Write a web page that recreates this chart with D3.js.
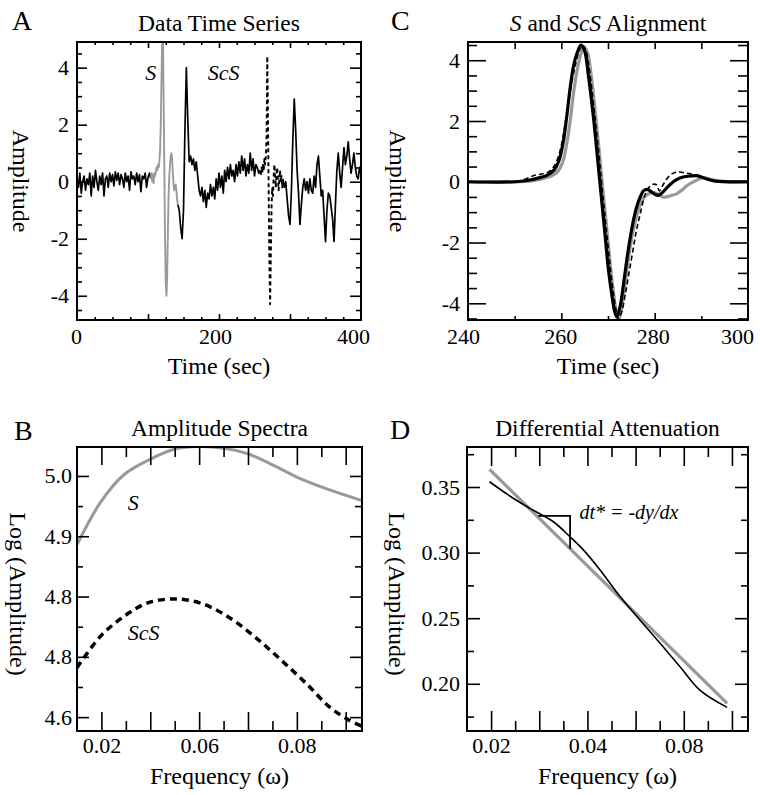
<!DOCTYPE html>
<html><head><meta charset="utf-8">
<script src="https://cdn.jsdelivr.net/npm/d3@7"></script>
<style>
body{margin:0;background:#fff}
svg{display:block}
text{font-family:"Liberation Serif","Times New Roman",Times,serif;fill:#000}
</style>
</head><body>
<svg id="c" width="760" height="795"></svg>
<script>
// ---------------- DATA ----------------
// Panel A: data time series (regularly sampled segments: start time, step, values)
const aBlack1Start = 0, aBlack1Step = 2;
const aBlack1 = [0.1,-0.2,0.3,-0.4,0.0,0.2,-0.3,0.1,-0.1,0.3,-0.5,0.2,-0.2,0.4,0.0,-0.3,0.2,-0.1,0.3,-0.5,0.1,0.2,-0.2,0.3,0.0,0.25,-0.15,0.35,0.05,0.3,-0.1,0.25,0.1,-0.2,0.3,0.0,0.2,-0.3,0.35,0.1,0.2,-0.1,0.3,0.0,0.25,-0.35,0.2,0.1,0.3,-0.2,0.15,0.3,0.1];
const aGrayStart = 104, aGrayStep = 1;
const aGray = [0.1,0.3,0.0,0.25,-0.05,0.3,0.2,0.35,0.5,0.4,0.6,0.5,0.7,1.1,2.0,3.6,5.0,5.2,3.0,0.5,-2.0,-3.6,-4.0,-3.3,-1.8,-0.5,0.2,0.6,0.9,1.0,0.8,0.3,-0.1,-0.3,-0.2,-0.1,-0.3,-0.6,-0.8];
const aBlack2Start = 142, aBlack2Step = 2;
const aBlack2 = [-0.8,-1.0,-1.6,-2.0,-1.0,1.8,4.0,2.2,0.7,0.9,0.6,0.8,0.4,0.7,0.2,-0.3,-0.5,-0.2,-0.7,-0.3,-0.9,-0.4,-0.6,-0.1,-0.5,-0.2,-0.6,0.1,-0.3,0.3,-0.2,0.2,-0.4,0.4,0.0,0.5,0.1,0.6,0.2,0.4,0.0,0.6,0.2,0.7,0.3,0.9,0.4,0.8,0.2,0.6,0.3,1.0,0.4,0.8,0.2,0.6,0.5,0.3,0.4];
const aDashStart = 258, aDashStep = 1;
const aDash = [0.4,0.2,0.5,0.3,0.6,0.4,0.8,0.6,0.9,1.6,4.4,2.2,-0.5,-2.8,-4.3,-2.6,-0.9,-0.2,-0.5,0.2,0.6,0.3,-0.2,0.3,0.5,0.1,-0.3,0.1,0.4,0.0,0.2,-0.2,0.1];
const aBlack3Start = 290, aBlack3Step = 2;
const aBlack3 = [0.1,-0.2,0.0,-0.6,-1.2,-1.5,-0.3,1.5,2.9,1.8,0.4,-0.4,-1.5,-0.8,-0.2,0.1,-0.3,0.0,-0.4,0.1,-0.3,-0.4,0.2,-0.2,0.6,0.9,0.2,-0.5,-0.3,-1.2,-2.1,-1.0,-0.4,-0.5,-0.9,-1.3,-2.1,-0.8,0.4,1.0,0.3,-0.2,0.5,1.2,0.6,0.9,1.4,0.8,0.3,0.6,1.0,0.5,0.2,0.1,0.5,0.3];
const aXLabelVals = [0, 200, 400];
const aXLabels = ["0", "200", "400"];
const aYLabelVals = [-4, -2, 0, 2, 4];
const aYLabels = ["-4", "-2", "0", "2", "4"];

// Panel C: S and ScS alignment
const cBlackT = [240,250,253,255,257,258.5,259.5,260.4,261.2,261.9,262.6,263.3,264.2,265.0,265.8,266.9,267.8,268.7,269.4,270.1,270.8,271.4,271.9,272.6,273.3,274.0,274.7,275.4,276.1,276.9,277.6,278.3,279.0,279.9,280.8,281.7,282.6,284.0,285.4,287.0,289.0,291.0,293.0,300];
const cBlackV = [0.0,0.0,0.05,0.12,0.22,0.4,0.7,1.3,2.2,3.1,3.8,4.2,4.5,4.3,3.5,2.1,0.7,-0.7,-1.8,-2.9,-3.7,-4.25,-4.45,-4.1,-3.4,-2.6,-1.9,-1.3,-0.85,-0.5,-0.3,-0.25,-0.3,-0.4,-0.45,-0.35,-0.2,0.0,0.12,0.18,0.2,0.1,0.02,0.0];
const cGrayT = [240,251,254,256,258,259.3,260.3,261.1,261.9,262.6,263.3,264.0,264.8,265.6,266.4,267.4,268.3,269.1,269.9,270.6,271.3,271.8,272.3,273.0,273.8,274.6,275.4,276.2,277.0,277.8,278.7,279.7,280.7,281.7,282.6,283.6,284.7,285.8,286.9,288.6,290.4,292.0,294.0,300];
const cGrayV = [0.0,0.0,0.04,0.1,0.2,0.35,0.65,1.2,2.0,2.9,3.6,4.1,4.45,4.25,3.5,2.1,0.7,-0.6,-1.8,-2.9,-3.8,-4.3,-4.55,-4.1,-3.2,-2.3,-1.6,-1.1,-0.7,-0.5,-0.4,-0.35,-0.4,-0.5,-0.5,-0.45,-0.4,-0.28,-0.13,0.02,0.14,0.08,0.02,0.0];
const cDashT = [240,250,252.5,254,255.5,257,258.4,259.3,260.0,260.8,261.6,262.4,263.1,263.8,264.5,265.2,266.0,267.0,268.0,268.8,269.6,270.4,271.1,271.7,272.2,272.9,273.7,274.5,275.3,276.1,276.9,277.6,278.3,279.0,279.7,280.4,281.0,281.8,282.9,284.2,285.4,286.8,288.2,289.8,291.1,293,300];
const cDashV = [0.0,0.0,0.1,0.2,0.25,0.3,0.5,0.8,1.2,1.9,2.7,3.4,3.9,4.3,4.5,4.35,3.7,2.4,1.0,-0.3,-1.5,-2.7,-3.6,-4.2,-4.5,-4.3,-3.7,-3.0,-2.3,-1.6,-1.06,-0.6,-0.3,-0.15,-0.08,-0.1,-0.3,-0.1,0.15,0.3,0.32,0.28,0.25,0.15,0.1,0.02,0.0];
const cXLabelVals = [240, 260, 280, 300];
const cXLabels = ["240", "260", "280", "300"];
const cYLabelVals = [-4, -2, 0, 2, 4];
const cYLabels = ["-4", "-2", "0", "2", "4"];

// Panel B: amplitude spectra
const bSFreq = [0.0125,0.0197,0.0269,0.0351,0.0428,0.0499,0.0576,0.0648,0.073,0.0812,0.0894,0.1];
const bSLog = [4.886,4.956,5.002,5.028,5.045,5.049,5.046,5.037,5.017,4.995,4.978,4.959];
const bScSFreq = [0.0125,0.0197,0.0269,0.034,0.0422,0.0505,0.0587,0.0669,0.0751,0.083,0.09,0.096,0.1];
const bScSLog = [4.682,4.734,4.767,4.789,4.796,4.789,4.767,4.734,4.695,4.655,4.617,4.595,4.585];
const bXLabelVals = [0.02, 0.05, 0.08];
const bXLabels = ["0.02", "0.06", "0.08"];
const bYLabelVals = [4.6, 4.7, 4.8, 4.9, 5.0];
const bYLabels = ["4.6", "4.8", "4.8", "4.9", "5.0"];

// Panel D: differential attenuation
const dRatioFreq = [0.0195,0.0269,0.0321,0.0394,0.0446,0.0488,0.054,0.0602,0.0664,0.0727,0.0789,0.0851,0.0935];
const dRatioLog = [0.354,0.3414,0.3337,0.3235,0.312,0.3019,0.2866,0.2663,0.2485,0.2307,0.2128,0.195,0.182];
const dFitFreq = [0.0195, 0.0935];
const dFitLog = [0.3635, 0.185];
const dSlopeFreq = [0.0347, 0.0446, 0.0446];
const dSlopeLog = [0.328, 0.328, 0.303];
const dXLabelVals = [0.02, 0.05, 0.08];
const dXLabels = ["0.02", "0.04", "0.08"];
const dYLabelVals = [0.20, 0.25, 0.30, 0.35];
const dYLabels = ["0.20", "0.25", "0.30", "0.35"];

// ---------------- DRAWING ----------------
const svg = d3.select('#c');
const TICK_FS = 22, TITLE_FS = 23.5, AXT_FS = 24, LET_FS = 28;

function zip(a, b) { return a.map((v, i) => [v, b[i]]); }
function seg(start, step, vals) { return vals.map((v, i) => [start + i * step, v]); }

function panel(cfg) {
  const x = d3.scaleLinear(cfg.xd, [cfg.l, cfg.r]);
  const y = d3.scaleLinear(cfg.yd, [cfg.b, cfg.t]);
  const g = svg.append('g');
  const id = 'clip' + cfg.name;
  svg.append('clipPath').attr('id', id).append('rect')
    .attr('x', cfg.l).attr('y', cfg.t).attr('width', cfg.r - cfg.l).attr('height', cfg.b - cfg.t);
  const plot = g.append('g').attr('clip-path', `url(#${id})`);
  const axes = g.append('g');

  function ticks(orient, vals, len) {
    const mk = {bottom: d3.axisBottom, top: d3.axisTop, left: d3.axisLeft, right: d3.axisRight}[orient];
    const sc = (orient === 'bottom' || orient === 'top') ? x : y;
    const tr = {bottom: `translate(0,${cfg.b})`, top: `translate(0,${cfg.t})`,
                left: `translate(${cfg.l},0)`, right: `translate(${cfg.r},0)`}[orient];
    const a = axes.append('g').attr('transform', tr)
      .call(mk(sc).tickValues(vals).tickSize(-len).tickSizeOuter(0).tickFormat(() => ''));
    a.select('.domain').remove();
    a.selectAll('line').attr('stroke', '#000').attr('stroke-width', 1.6);
  }
  function labels(orient, vals, texts, pad, dxs) {
    const mk = orient === 'bottom' ? d3.axisBottom : d3.axisLeft;
    const sc = orient === 'bottom' ? x : y;
    const tr = orient === 'bottom' ? `translate(0,${cfg.b})` : `translate(${cfg.l},0)`;
    const a = axes.append('g').attr('transform', tr)
      .call(mk(sc).tickValues(vals).tickSize(0).tickPadding(pad).tickFormat((d, i) => texts[i]));
    a.select('.domain').remove();
    a.selectAll('line').remove();
    a.selectAll('text').attr('font-size', TICK_FS).attr('fill', '#000')
      .style('font-family', '"Liberation Serif","Times New Roman",serif');
    if (dxs) a.selectAll('text').attr('dx', (d, i) => dxs[i]);
  }
  cfg.xTicks.forEach(t => { ticks('bottom', t.v, t.lb); ticks('top', t.v, t.lt); });
  cfg.yTicks.forEach(t => { ticks('left', t.v, t.ll); ticks('right', t.v, t.lr); });
  labels('bottom', cfg.xLabVals, cfg.xLabs, cfg.xPad, cfg.xLabDx);
  labels('left', cfg.yLabVals, cfg.yLabs, cfg.yPad);

  g.append('rect').attr('x', cfg.l).attr('y', cfg.t).attr('width', cfg.r - cfg.l).attr('height', cfg.b - cfg.t)
    .attr('fill', 'none').attr('stroke', '#000').attr('stroke-width', 2);

  g.append('text').attr('x', cfg.letX).attr('y', cfg.letY).attr('font-size', LET_FS).text(cfg.letter);
  const tt = g.append('text').attr('x', (cfg.l + cfg.r) / 2).attr('y', cfg.titleY)
    .attr('text-anchor', 'middle').attr('font-size', TITLE_FS);
  cfg.title.forEach(p => tt.append('tspan').attr('font-style', p[1] ? 'italic' : 'normal').text(p[0]));
  g.append('text').attr('x', (cfg.l + cfg.r) / 2).attr('y', cfg.xTitleY).attr('text-anchor', 'middle')
    .attr('font-size', AXT_FS).text(cfg.xTitle);
  g.append('text').attr('transform', `translate(${cfg.yTitleX},${cfg.yTitleCY || (cfg.t + cfg.b) / 2}) rotate(90)`)
    .attr('text-anchor', 'middle').attr('dy', '0.35em').attr('font-size', AXT_FS).text(cfg.yTitle);
  return {x, y, plot, g};
}

function minorRange(a, b, step, majors) {
  return d3.range(a, b + step / 2, step).map(v => +v.toFixed(5)).filter(v => !majors.some(m => Math.abs(m - v) < 1e-6));
}

// ---- Panel A ----
{
  const yMaj = [-4, -2, 0, 2, 4];
  const p = panel({
    name: 'A', l: 77, r: 361, t: 42, b: 320, xd: [0, 400], yd: [-4.85, 4.9],
    xTicks: [{v: [100, 200, 300], lb: 6, lt: 6}, {v: minorRange(25, 375, 25, [100, 200, 300]), lb: 3, lt: 3}],
    yTicks: [{v: yMaj, ll: 10, lr: 11}, {v: minorRange(-4.5, 4.5, 0.5, yMaj), ll: 5, lr: 5}],
    xLabVals: aXLabelVals, xLabs: aXLabels, xPad: 8, xLabDx: [-1, -4, -8],
    yLabVals: aYLabelVals, yLabs: aYLabels, yPad: 8,
    letter: 'A', letX: 12, letY: 30, title: [['Data Time Series', false]], titleY: 31,
    xTitle: 'Time (sec)', xTitleY: 374, yTitle: 'Amplitude', yTitleX: 21
  });
  const line = d3.line().x(d => p.x(d[0])).y(d => p.y(d[1]));
  const st = (path, col, w, dash) => path.attr('fill', 'none').attr('stroke', col).attr('stroke-width', w)
      .attr('stroke-linejoin', 'round').attr('stroke-dasharray', dash || null);
  st(p.plot.append('path').attr('d', line(seg(aBlack1Start, aBlack1Step, aBlack1))), '#000', 1.7);
  st(p.plot.append('path').attr('d', line(seg(aBlack2Start, aBlack2Step, aBlack2))), '#000', 1.7);
  st(p.plot.append('path').attr('d', line(seg(aBlack3Start, aBlack3Step, aBlack3))), '#000', 1.7);
  st(p.plot.append('path').attr('d', line(seg(aGrayStart, aGrayStep, aGray))), '#9a9a9a', 1.9);
  st(p.plot.append('path').attr('d', line(seg(aDashStart, aDashStep, aDash))), '#000', 1.9, '4,3');
  p.g.append('text').attr('x', p.x(96)).attr('y', 80).attr('font-size', 22).attr('font-style', 'italic')
    .attr('fill', '#333').text('S');
  p.g.append('text').attr('x', p.x(184)).attr('y', 80).attr('font-size', 22).attr('font-style', 'italic')
    .attr('fill', '#333').text('ScS');
}

// ---- Panel C ----
{
  const yMaj = [-4, -2, 0, 2, 4];
  const p = panel({
    name: 'C', l: 468, r: 748, t: 42, b: 320, xd: [240, 300], yd: [-4.55, 4.6],
    xTicks: [{v: [260, 280], lb: 7, lt: 7}, {v: [250, 270, 290], lb: 4, lt: 7}],
    yTicks: [{v: yMaj, ll: 18, lr: 18}, {v: minorRange(-4.5, 4.5, 0.5, yMaj), ll: 9, lr: 10}],
    xLabVals: cXLabelVals, xLabs: cXLabels, xPad: 8, xLabDx: [-5, -1, -2, -11],
    yLabVals: cYLabelVals, yLabs: cYLabels, yPad: 8,
    letter: 'C', letX: 391, letY: 30, title: [['S', true], [' and ', false], ['ScS', true], [' Alignment', false]], titleY: 31,
    xTitle: 'Time (sec)', xTitleY: 374, yTitle: 'Amplitude', yTitleX: 398
  });
  const line = d3.line().x(d => p.x(d[0])).y(d => p.y(d[1])).curve(d3.curveCatmullRom);
  p.plot.append('path').attr('d', line(zip(cGrayT, cGrayV))).attr('fill', 'none').attr('stroke', '#999').attr('stroke-width', 3.2);
  p.plot.append('path').attr('d', line(zip(cBlackT, cBlackV))).attr('fill', 'none').attr('stroke', '#000').attr('stroke-width', 3.2);
  p.plot.append('path').attr('d', line(zip(cDashT, cDashV))).attr('fill', 'none').attr('stroke', '#000').attr('stroke-width', 1.6).attr('stroke-dasharray', '5,3');
}

// shared frequency ticks
const fTicks = d3.range(0, 11).map(k => +(0.02 + k * 0.0075).toFixed(5));
const fMaj = fTicks.filter((v, k) => k % 2 === 0);
const fMin = fTicks.filter((v, k) => k % 2 === 1);

// ---- Panel B ----
{
  const yMaj = [4.6, 4.7, 4.8, 4.9, 5.0];
  const p = panel({
    name: 'B', l: 77, r: 362, t: 447, b: 731, xd: [0.0125, 0.1], yd: [4.577, 5.048],
    xTicks: [{v: fMaj, lb: 19, lt: 18}, {v: fMin, lb: 10, lt: 10}],
    yTicks: [{v: yMaj, ll: 12, lr: 12}, {v: [4.65, 4.75, 4.85, 4.95], ll: 6, lr: 7}],
    xLabVals: bXLabelVals, xLabs: bXLabels, xPad: 6,
    yLabVals: bYLabelVals, yLabs: bYLabels, yPad: 5,
    letter: 'B', letX: 14, letY: 440, title: [['Amplitude Spectra', false]], titleY: 436,
    xTitle: 'Frequency (\u03c9)', xTitleY: 784, yTitle: 'Log (Amplitude)', yTitleX: 18, yTitleCY: 594
  });
  const line = d3.line().x(d => p.x(d[0])).y(d => p.y(d[1])).curve(d3.curveCatmullRom);
  p.plot.append('path').attr('d', line(zip(bSFreq, bSLog))).attr('fill', 'none').attr('stroke', '#999').attr('stroke-width', 3);
  p.plot.append('path').attr('d', line(zip(bScSFreq, bScSLog))).attr('fill', 'none').attr('stroke', '#000').attr('stroke-width', 3.5).attr('stroke-dasharray', '7,5');
  p.g.append('text').attr('x', p.x(0.0281)).attr('y', p.y(4.943)).attr('font-size', 22).attr('font-style', 'italic').attr('fill', '#333').text('S');
  p.g.append('text').attr('x', p.x(0.0281)).attr('y', p.y(4.728)).attr('font-size', 22).attr('font-style', 'italic').attr('fill', '#333').text('ScS');
}

// ---- Panel D ----
{
  const yMaj = [0.20, 0.25, 0.30, 0.35];
  const p = panel({
    name: 'D', l: 467, r: 748, t: 447, b: 731, xd: [0.0125, 0.1], yd: [0.164, 0.3805],
    xTicks: [{v: fMaj, lb: 20, lt: 19}, {v: fMin, lb: 10, lt: 10}],
    yTicks: [{v: yMaj, ll: 13, lr: 13}, {v: [0.175, 0.225, 0.275, 0.325, 0.375], ll: 7, lr: 7}],
    xLabVals: dXLabelVals, xLabs: dXLabels, xPad: 6,
    yLabVals: dYLabelVals, yLabs: dYLabels, yPad: 7,
    letter: 'D', letX: 390, letY: 439, title: [['Differential Attenuation', false]], titleY: 436,
    xTitle: 'Frequency (\u03c9)', xTitleY: 784, yTitle: 'Log (Amplitude)', yTitleX: 397, yTitleCY: 594
  });
  const line = d3.line().x(d => p.x(d[0])).y(d => p.y(d[1]));
  p.plot.append('path').attr('d', line(zip(dFitFreq, dFitLog))).attr('fill', 'none').attr('stroke', '#999').attr('stroke-width', 3.2);
  p.plot.append('path').attr('d', d3.line().x(d => p.x(d[0])).y(d => p.y(d[1])).curve(d3.curveCatmullRom)(zip(dRatioFreq, dRatioLog)))
    .attr('fill', 'none').attr('stroke', '#000').attr('stroke-width', 1.6);
  p.plot.append('path').attr('d', line(zip(dSlopeFreq, dSlopeLog))).attr('fill', 'none').attr('stroke', '#000').attr('stroke-width', 1.8);
  p.g.append('text').attr('x', p.x(0.0475)).attr('y', p.y(0.3255)).attr('font-size', 20).attr('font-style', 'italic').text('dt* = -dy/dx');
}
</script>
</body></html>
